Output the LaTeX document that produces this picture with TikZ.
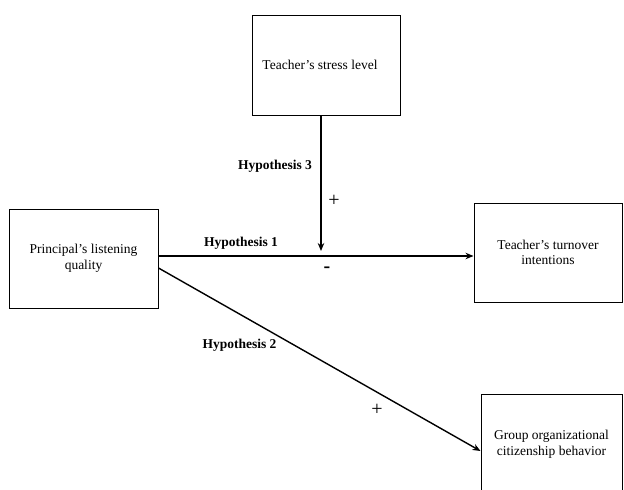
\documentclass[tikz,border=0pt]{standalone}
\usepackage{fontspec}
\setmainfont{Liberation Serif}
\usetikzlibrary{arrows.meta}
\begin{document}
\begin{tikzpicture}[x=1pt,y=-1pt,
  box/.style={draw,line width=1pt,rectangle,align=center,inner sep=0pt,
    font=\fontsize{13.5}{15.5}\selectfont},
  arr/.style={line width=1.4pt,-{Stealth[length=8pt,width=6.5pt]}},
  hyp/.style={font=\fontsize{13.5}{15.5}\selectfont\bfseries,inner sep=0pt},
  sgn/.style={font=\fontsize{20}{22}\selectfont,inner sep=0pt}]
\clip (0,0) rectangle (624,490);
\fill[white] (0,0) rectangle (624,490);
\node[box,minimum width=148pt,minimum height=100pt] (stress) at (326,65) {\hspace*{-12pt}Teacher’s stress level};
\node[box,minimum width=149pt,minimum height=99pt] (principal) at (83.5,258.5) {Principal’s listening\\quality};
\node[box,minimum width=148pt,minimum height=99pt] (turnover) at (548,252.5) {Teacher’s turnover\\intentions};
\node[box,minimum width=141pt,minimum height=100pt] (group) at (551.5,444) {Group organizational\\citizenship behavior};
\coordinate (h) at (0,256);
\coordinate (v) at (321,0);
\coordinate (dstart) at (0,268);
\coordinate (dend) at (0,451);
\draw[arr] (principal.east |- h) -- (turnover.west |- h);
\draw[arr,shorten >=5pt] (stress.south -| v) -- (v |- h);
\draw[arr] (principal.east |- dstart) -- (group.west |- dend);
\node[hyp] (h3) at (275,166) {Hypothesis 3};
\node[hyp] (h1) at (241,243) {Hypothesis 1};
\node[hyp] (h2) at (239.5,345) {Hypothesis 2};
\node[sgn] (p3) at (334,201) {+};
\node[sgn] (m1) at (327,270) {\textbf{-}};
\node[sgn] (p2) at (377,410) {+};
\end{tikzpicture}
\end{document}
